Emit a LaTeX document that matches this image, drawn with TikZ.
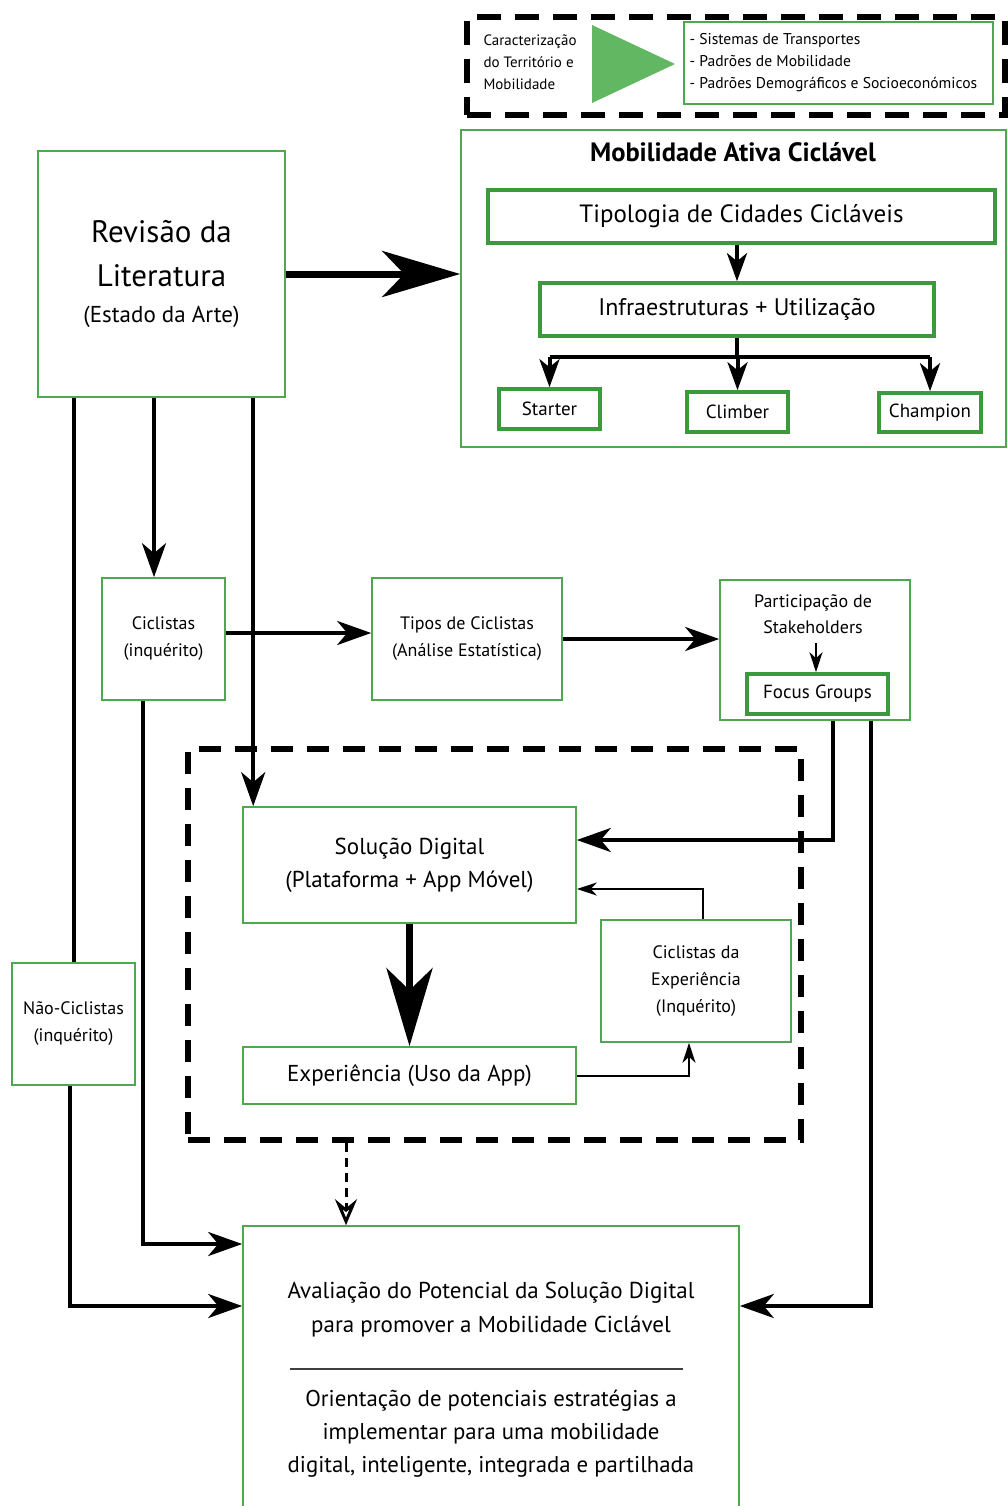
\documentclass[tikz,border=0pt]{standalone}
\usepackage{fontspec}
\setmainfont{PT Sans}
\usetikzlibrary{arrows.meta,positioning,calc}
\definecolor{boxgreen}{HTML}{4FA84F}
\definecolor{darkgreen}{HTML}{3B9A3B}
\definecolor{trigreen}{HTML}{62B862}
\newcommand{\fs}[2]{\fontsize{#1}{#2}\selectfont}
\begin{document}
\begin{tikzpicture}[x=1pt,y=-1pt,
  thinbox/.style={draw=boxgreen,line width=1.6pt,fill=white,inner sep=0pt,align=center},
  thickbox/.style={draw=darkgreen,line width=3.6pt,fill=white,inner sep=0pt,align=center},
  framebox/.style={draw=black,line width=6pt,dash pattern=on 24pt off 14pt},
  conn/.style={draw=black,line width=4pt},
  arr/.style={conn,-{Stealth[length=34pt,width=24pt,inset=10pt]}},
  arrs/.style={conn,-{Stealth[length=28pt,width=20pt,inset=8pt]}},
  thinarr/.style={draw=black,line width=2pt,-{Stealth[length=20pt,width=13pt,inset=6pt]}},
  bigarr/.style={draw=black,line width=7pt,-{Stealth[length=78pt,width=46pt,inset=22pt]}},
  dasharr/.style={draw=black,line width=3pt,dash pattern=on 9pt off 6pt,-{Stealth[length=26pt,width=22pt,inset=9pt,open]}}
]
\path[fill=white,use as bounding box] (0,0) rectangle (1008,1506);

% legend: territory characterisation
\node[framebox,minimum width=538pt,minimum height=98pt] (legend) at (736,66) {};
\node[align=left,anchor=west,font=\fs{15}{22}] (legtxt) at (480,62) {Caracterização\\do Território e\\Mobilidade};
\fill[trigreen] (592,25) -- (675,64) -- (592,103) -- cycle;
\node[thinbox,minimum width=309pt,minimum height=82pt] (legbox) at (838.5,63) {};
\node[align=left,anchor=west,font=\fs{15.6}{22}] (legitems) at (686,63) {- Sistemas de Transportes\\- Padrões de Mobilidade\\- Padrões Demográficos e Socioeconómicos};

% cycling mobility block
\node[thinbox,minimum width=545pt,minimum height=317pt] (mob) at (733.5,288.5) {};
\node[font=\bfseries\fs{26.5}{30}] (mobtitle) at (733,152) {Mobilidade Ativa Ciclável};
\node[thickbox,minimum width=507pt,minimum height=53pt,font=\fs{25}{28}] (tip) at (741.5,216.5) {Tipologia de Cidades Cicláveis};
\node[thickbox,minimum width=394pt,minimum height=53pt,font=\fs{24}{28}] (inf) at (737,309.5) {Infraestruturas + Utilização};
\node[thickbox,minimum width=101pt,minimum height=40pt,font=\fs{19}{22}] (sta) at (549.5,409) {Starter};
\node[thickbox,minimum width=101pt,minimum height=40pt,font=\fs{19}{22}] (cli) at (737.5,412) {Climber};
\node[thickbox,minimum width=102pt,minimum height=39pt,font=\fs{19}{22}] (cha) at (930,412.5) {Champion};
\draw[arrs] (inf.north |- tip.south) -- (inf.north);
\draw[conn] (inf.south) -- ++(0,19) coordinate (br);
\draw[conn] (sta.north |- br) -- (cha.north |- br);
\draw[arrs] (sta.north |- br) -- (sta.north);
\draw[arrs] (cli.north |- br) -- (cli.north);
\draw[arrs] (cha.north |- br) -- (cha.north);

% literature review
\node[thinbox,minimum width=247pt,minimum height=246pt,font=\fs{31}{44}] (rev) at (161.5,274) {Revisão da\\Literatura\\[-8pt]{\fs{23}{26}(Estado da Arte)}};
\draw[bigarr] (rev.east) -- (rev.east -| mob.west);

% surveys and analysis
\node[thinbox,minimum width=123pt,minimum height=122pt,font=\fs{18}{27}] (cic) at (163.5,639) {Ciclistas\\(inquérito)};
\node[thinbox,minimum width=190pt,minimum height=122pt,font=\fs{18}{27}] (tipos) at (467,639) {Tipos de Ciclistas\\(Análise Estatística)};
\node[thinbox,minimum width=190pt,minimum height=140pt] (par) at (815,650) {};
\node[font=\fs{18}{26},align=center] (partxt) at (813,614) {Participação de\\Stakeholders};
\node[thickbox,minimum width=141pt,minimum height=40pt,font=\fs{19}{22}] (foc) at (817.5,694) {Focus Groups};
\draw[thinarr] (816,643) -- (foc.north -| 816,0);
\node[thinbox,minimum width=123pt,minimum height=122pt,font=\fs{18}{27}] (nao) at (73.5,1024) {Não-Ciclistas\\(inquérito)};

% digital experience frame
\node[framebox,dash pattern=on 22pt off 14pt,minimum width=613pt,minimum height=391pt] (frame) at (494.5,944.5) {};
\node[thinbox,minimum width=333pt,minimum height=116pt,font=\fs{23}{33}] (sol) at (409.5,865) {Solução Digital\\(Plataforma + App Móvel)};
\node[thinbox,minimum width=333pt,minimum height=57pt,font=\fs{23}{26}] (exp) at (409.5,1075.5) {Experiência (Uso da App)};
\node[thinbox,minimum width=190pt,minimum height=122pt,font=\fs{18}{27}] (cex) at (696,981) {Ciclistas da\\Experiência\\(Inquérito)};
\draw[bigarr] (sol.south) -- (exp.north);
\draw[thinarr] (exp.east) -| ([xshift=-7pt]cex.south);
\draw[thinarr] ([xshift=7pt]cex.north) |- ([yshift=-24pt]sol.east);

% evaluation
\node[thinbox,minimum width=496pt,minimum height=284pt] (ava) at (491,1368) {};
\node[font=\fs{23}{34},align=center] (avatop) at (491,1310) {Avaliação do Potencial da Solução Digital\\para promover a Mobilidade Ciclável};
\draw[black!75,line width=1.6pt] (290,1369) -- (683,1369);
\node[font=\fs{22.8}{33},align=center] (avabot) at (491,1434) {Orientação de potenciais estratégias a\\implementar para uma mobilidade\\digital, inteligente, integrada e partilhada};

% connectors from the literature review and the surveys
\draw[conn] (nao.north |- rev.south) -- (nao.north);
\draw[arr] ([xshift=-9.5pt]cic.north |- rev.south) -- ([xshift=-9.5pt]cic.north);
\draw[arr] ([xshift=11pt]sol.north west |- rev.south) -- ([xshift=11pt]sol.north west);
\draw[arr] ([yshift=6pt]cic.east) -- ([yshift=6pt]cic.east -| tipos.west);
\draw[arr] (tipos.east) -- (tipos.east -| par.west);
\draw[arr] ([xshift=18pt]par.south) |- ([yshift=25pt]sol.east);
\draw[arr] ([xshift=56pt]par.south) |- ([yshift=62pt]ava.east);
\draw[arr] ([xshift=-20.5pt]cic.south) |- ([yshift=124pt]ava.west);
\draw[arr] ([xshift=-3.5pt]nao.south) |- ([yshift=62pt]ava.west);
\draw[dasharr] ([xshift=-145pt]ava.north |- frame.south) -- ([xshift=-145pt]ava.north);
\end{tikzpicture}
\end{document}
